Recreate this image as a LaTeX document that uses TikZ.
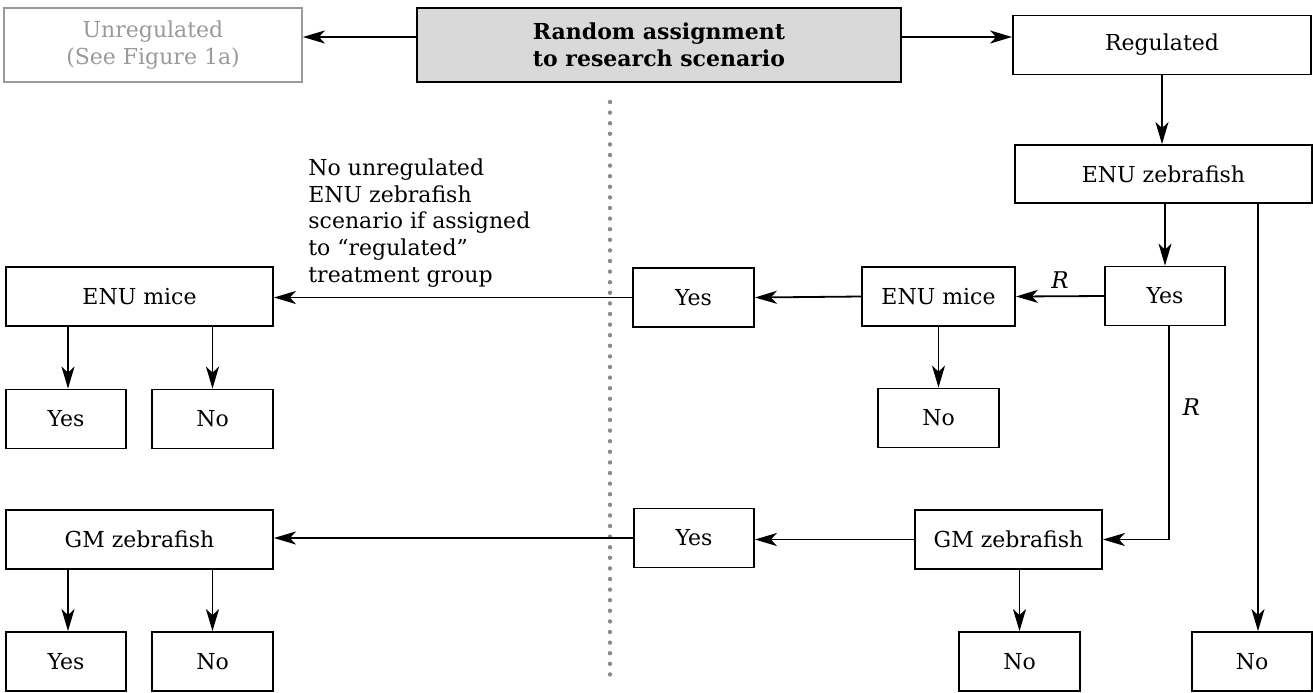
\documentclass[tikz,border=0pt]{standalone}
\usepackage{fontspec}
\setmainfont{DejaVu Serif}
\usetikzlibrary{arrows.meta, calc}
\definecolor{fadegray}{HTML}{9A9A9A}
\definecolor{startfill}{HTML}{D9D9D9}
\definecolor{dotgray}{HTML}{8A8A8A}
\tikzset{
  box/.style={rectangle, draw=#1, line width=0.9pt, minimum height=29.5pt,
              inner sep=2pt, align=center, font=\fontsize{11}{13.4}\selectfont},
  box/.default=black,
  fadebox/.style={box=fadegray, text=fadegray, minimum height=37pt},
  startbox/.style={box, fill=startfill, minimum height=37pt,
                   font=\fontsize{11}{13.4}\selectfont\bfseries},
  lbl/.style={font=\fontsize{11.5}{13.4}\selectfont\itshape},
  note/.style={align=left, inner sep=0pt, font=\fontsize{11}{13.4}\selectfont},
  arr/.style={-{Stealth[length=11pt, width=6.5pt, inset=3pt]}, line width=0.9pt},
  divider/.style={dotgray, line width=2.2pt, line cap=round,
                  dash pattern=on 0pt off 5.3pt},
}

\begin{document}
\begin{tikzpicture}[x=0.5pt, y=-0.5pt]
  \useasboundingbox (0,0) rectangle (1313,692);

  % --- top row: assignment ---
  \node[fadebox, minimum width=149pt] (unreg) at (153,45) {Unregulated\\(See Figure 1a)};
  \node[startbox, minimum width=242pt] (rand) at (659,45) {Random assignment\\to research scenario};
  \node[box, minimum width=149pt] (reg) at (1162,45) {Regulated};
  \draw[arr] ([yshift=4pt]rand.west) -- ([yshift=4pt]unreg.east);
  \draw[arr] ([yshift=4pt]rand.east) -- ([yshift=4pt]reg.west);

  % --- divider between groups ---
  \draw[divider] (610,102) -- (610,684);

  % --- regulated branch (right) ---
  \node[box, minimum width=148.5pt, minimum height=29pt] (enuz) at (1163.5,174) {ENU zebrafish};
  \node[box, minimum width=60pt] (yesR) at (1165,296) {Yes};
  \node[box, minimum width=76.5pt] (enumM) at (938.5,296.5) {ENU mice};
  \node[box, minimum width=60.5pt] (noM) at (938.5,418) {No};
  \node[box, minimum width=60.5pt] (yesA) at (693.5,297.5) {Yes};
  \node[box, minimum width=93.5pt] (gmM) at (1008.5,539.5) {GM zebrafish};
  \node[box, minimum width=60pt] (yesB) at (694,538) {Yes};
  \node[box, minimum width=60.5pt] (noG) at (1019.5,661.5) {No};
  \node[box, minimum width=60pt] (noR) at (1252,661.5) {No};

  \draw[arr] (reg.south) -- (reg.south |- enuz.north);
  \draw[arr] (yesR.north |- enuz.south) -- (yesR.north);
  \draw[arr] ([xshift=3pt]noR.north |- enuz.south) -- ([xshift=3pt]noR.north);
  \draw[arr] (yesR.west) -- node[lbl, above] {R} (enumM.east);
  \draw[arr] ([xshift=2pt]yesR.south) |- node[lbl, pos=0.19, right=3pt] {R} (gmM.east);
  \draw[arr] (enumM.south) -- (noM.north);
  \draw[arr] (enumM.west) -- (yesA.east);
  \draw[arr] (gmM.west) -- (gmM.west -| yesB.east);
  \draw[arr] (noG.north |- gmM.south) -- (noG.north);

  % --- unregulated counterpart (left) ---
  \node[box, minimum width=133.5pt] (enumL) at (139.5,296.5) {ENU mice};
  \node[box, minimum width=60pt] (yesC) at (66,419) {Yes};
  \node[box, minimum width=60.5pt] (noC) at (212.5,419) {No};
  \node[box, minimum width=133.5pt] (gmL) at (139.5,539.5) {GM zebrafish};
  \node[box, minimum width=60pt] (yesD) at (66,661.5) {Yes};
  \node[box, minimum width=60.5pt] (noD) at (212.5,661.5) {No};
  \node[note, anchor=west] (nonote) at (308,223)
    {No unregulated\\ENU zebrafish\\scenario if assigned\\to “regulated”\\treatment group};

  \draw[arr] (yesA.west) -- (yesA.west -| enumL.east);
  \draw[arr] (yesB.west) -- (yesB.west -| gmL.east);
  \draw[arr] ([xshift=1pt]yesC.north |- enumL.south) -- ([xshift=1pt]yesC.north);
  \draw[arr] (noC.north |- enumL.south) -- (noC.north);
  \draw[arr] ([xshift=1pt]yesD.north |- gmL.south) -- ([xshift=1pt]yesD.north);
  \draw[arr] (noD.north |- gmL.south) -- (noD.north);
\end{tikzpicture}
\end{document}
